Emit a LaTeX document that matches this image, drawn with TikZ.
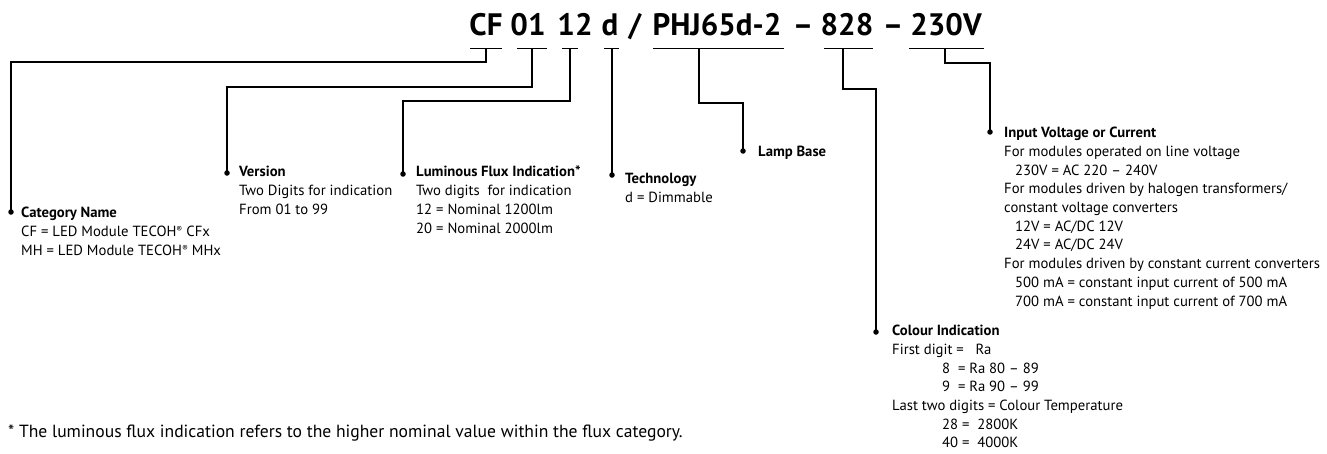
\documentclass[tikz,border=0pt]{standalone}
\usepackage{fontspec}
\setmainfont{PT Sans}
\usetikzlibrary{calc}
\newcommand{\regm}{{\fontsize{8.5}{8.5}\selectfont\raisebox{3.6pt}{®}}}
\begin{document}
\begin{tikzpicture}[x=1pt,y=-1pt,
  conn/.style={line width=1.3pt, black},
  bar/.style={line width=1.3pt, black},
  dotn/.style={circle, fill=black, inner sep=0pt, minimum size=5.5pt},
  ttl/.style={font=\fontsize{31}{31}\selectfont\bfseries, anchor=base, inner sep=0pt},
  desc/.style={font=\fontsize{14.7}{18.7}\selectfont, align=left, anchor=north west, inner sep=0pt},
]
\useasboundingbox (0,0) rectangle (1327,453);

% title parts
\node[ttl] (tCF)  at (486,35) {CF};
\node[ttl] (t01)  at (528,35) {01};
\node[ttl] (t12)  at (575,35) {12};
\node[ttl] (td)   at (610,35) {d};
\node[ttl] (tsl)  at (635,35) {/};
\node[ttl] (tPHJ) at (717,35) {PHJ65d-2};
\node[ttl] (ts1)  at (803,35) {–};
\node[ttl] (t828) at (847,35) {828};
\node[ttl] (ts2)  at (893,35) {–};
\node[ttl] (t230) at (946,35) {230V};

% underline bars
\draw[bar] (470,48.5) -- (502,48.5);
\draw[bar] (517,48.5) -- (547,48.5);
\draw[bar] (562,48.5) -- (578,48.5);
\draw[bar] (604,48.5) -- (619,48.5);
\draw[bar] (653,48.5) -- (784,48.5);
\draw[bar] (824,48.5) -- (873,48.5);
\draw[bar] (909,48.5) -- (984,48.5);

% tap points on the bars
\coordinate (bCF) at (486,48.5);
\coordinate (b01) at (532,48.5);
\coordinate (b12) at (570,48.5);
\coordinate (bd)  at (612,48.5);
\coordinate (bP)  at (699,48.5);
\coordinate (b8)  at (843,48.5);
\coordinate (b2)  at (945,48.5);

% dots
\node[dotn] (dCat)  at (11,212) {};
\node[dotn] (dVer)  at (227,173) {};
\node[dotn] (dLum)  at (403,174) {};
\node[dotn] (dTec)  at (612,175) {};
\node[dotn] (dLamp) at (743,151) {};
\node[dotn] (dIn)   at (990,132) {};
\node[dotn] (dCol)  at (876,332) {};

% connectors
\draw[conn] (bCF) -- ++(0,13.5) -| (dCat.center);
\draw[conn] (b01) -- ++(0,38.5) -| (dVer.center);
\draw[conn] (b12) -- ++(0,52.5) -| (dLum.center);
\draw[conn] (bd) -- (dTec.center);
\draw[conn] (bP) -- ++(0,54.5) -| (dLamp.center);
\draw[conn] (b8) -- ++(0,40.5) -| (dCol.center);
\draw[conn] (b2) -- ++(0,14.5) -| (dIn.center);

% descriptions
\node[desc] (xCat) at (21,207) {\textbf{Category Name}\\CF = LED Module TECOH\regm\ CFx\\MH = LED Module TECOH\regm\ MHx};
\node[desc] (xVer) at (239,166) {\textbf{Version}\\Two Digits for indication\\From 01 to 99};
\node[desc] (xLum) at (416,166) {\textbf{Luminous Flux Indication*}\\Two digits\ \ for indication\\12 = Nominal 1200lm\\20 = Nominal 2000lm};
\node[desc] (xTec) at (625,173) {\textbf{Technology}\\d = Dimmable};
\node[desc] (xLamp) at (758,146) {\textbf{Lamp Base}};
\node[desc] (xIn) at (1004,127) {\textbf{Input Voltage or Current}\\For modules operated on line voltage\\\hspace*{11pt}230V = AC 220 – 240V\\For modules driven by halogen transformers/\\constant voltage converters\\\hspace*{11pt}12V = AC/DC 12V\\\hspace*{11pt}24V = AC/DC 24V\\For modules driven by constant current converters\\\hspace*{11pt}500 mA = constant input current of 500 mA\\\hspace*{11pt}700 mA = constant input current of 700 mA};
\node[desc] (xCol) at (892,325) {\textbf{Colour Indication}\\First digit = \ \ Ra\\\hspace*{50pt}8\ \ = Ra 80 – 89\\\hspace*{50pt}9\ \ = Ra 90 – 99\\Last two digits = Colour Temperature\\\hspace*{50pt}28 = \ 2800K\\\hspace*{50pt}40 = \ 4000K};

% footnote
\node[anchor=base west, inner sep=0pt, font=\fontsize{17.6}{17.6}\selectfont] (fn) at (8,437) {* The luminous flux indication refers to the higher nominal value within the flux category.};
\end{tikzpicture}
\end{document}
